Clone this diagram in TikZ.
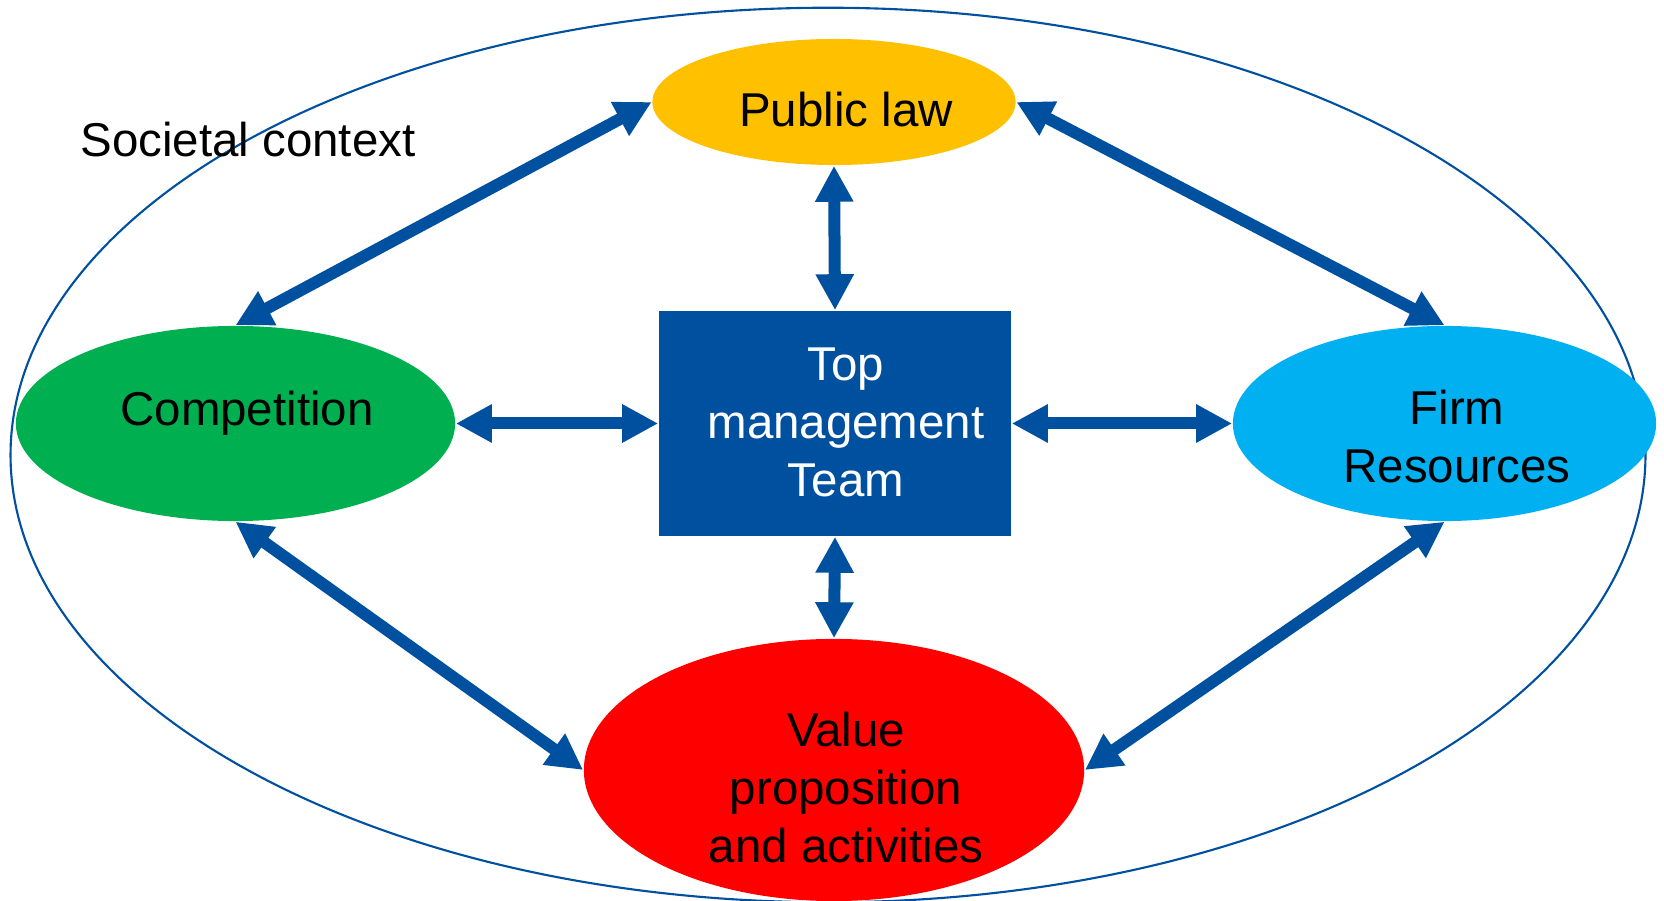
\documentclass[tikz,border=0pt]{standalone}
\usepackage{fontspec}
\setmainfont{Liberation Sans}
\usetikzlibrary{arrows.meta,shapes.geometric}
\definecolor{tmtblue}{HTML}{0050A0}
\definecolor{lawyellow}{HTML}{FFC000}
\definecolor{compgreen}{HTML}{00B050}
\definecolor{firmblue}{HTML}{00B0F0}
\definecolor{valuered}{HTML}{FF0000}

\begin{document}
\begin{tikzpicture}[x=0.01cm,y=-0.01cm,
    twoway/.style={draw=tmtblue,line width=0.12cm,
        {Triangle[length=0.36cm,width=0.36cm]}-{Triangle[length=0.36cm,width=0.36cm]}},
    blob/.style={ellipse,inner sep=0pt},
    txt/.style={font=\fontsize{13.5}{16.5}\selectfont,align=center}]
    \useasboundingbox (0,0) rectangle (1664,901);
    \node[blob,draw=tmtblue,line width=0.6pt,minimum width=16.34cm,minimum height=8.94cm] (society) at (828,455) {};
    \node[txt] (societytxt) at (248,140) {Societal context};
    \node[blob,fill=lawyellow,minimum width=3.63cm,minimum height=1.26cm] (law) at (834,102) {};
    \node[blob,fill=compgreen,minimum width=4.39cm,minimum height=1.95cm] (comp) at (235.5,423.5) {};
    \node[blob,fill=firmblue,minimum width=4.23cm,minimum height=1.95cm] (firm) at (1444.5,423.5) {};
    \node[blob,fill=valuered,minimum width=5cm,minimum height=2.62cm] (value) at (834,770) {};
    \node[fill=tmtblue,inner sep=0pt,minimum width=3.52cm,minimum height=2.25cm] (tmt) at (835,423.5) {};
    \node[txt] (lawtxt) at (846,110) {Public law};
    \node[txt] (comptxt) at (247,413) {Competition};
    \node[txt] (firmtxt) at (1457,437) {Firm\\Resources};
    \node[txt] (valuetxt) at (846,788) {Value\\proposition\\and activities};
    \node[txt,text=white] (tmttxt) at (846,422) {Top\\management\\Team};
    \draw[twoway] (comp.north) -- (law.west);
    \draw[twoway] (law.east) -- (firm.north);
    \draw[twoway] (comp.south) -- (value.west);
    \draw[twoway] (firm.south) -- (value.east);
    \draw[twoway] (tmt.north) -- (law.south);
    \draw[twoway] (tmt.south) -- (value.north);
    \draw[twoway] (tmt.west) -- (comp.east);
    \draw[twoway] (tmt.east) -- (firm.west);
\end{tikzpicture}
\end{document}
